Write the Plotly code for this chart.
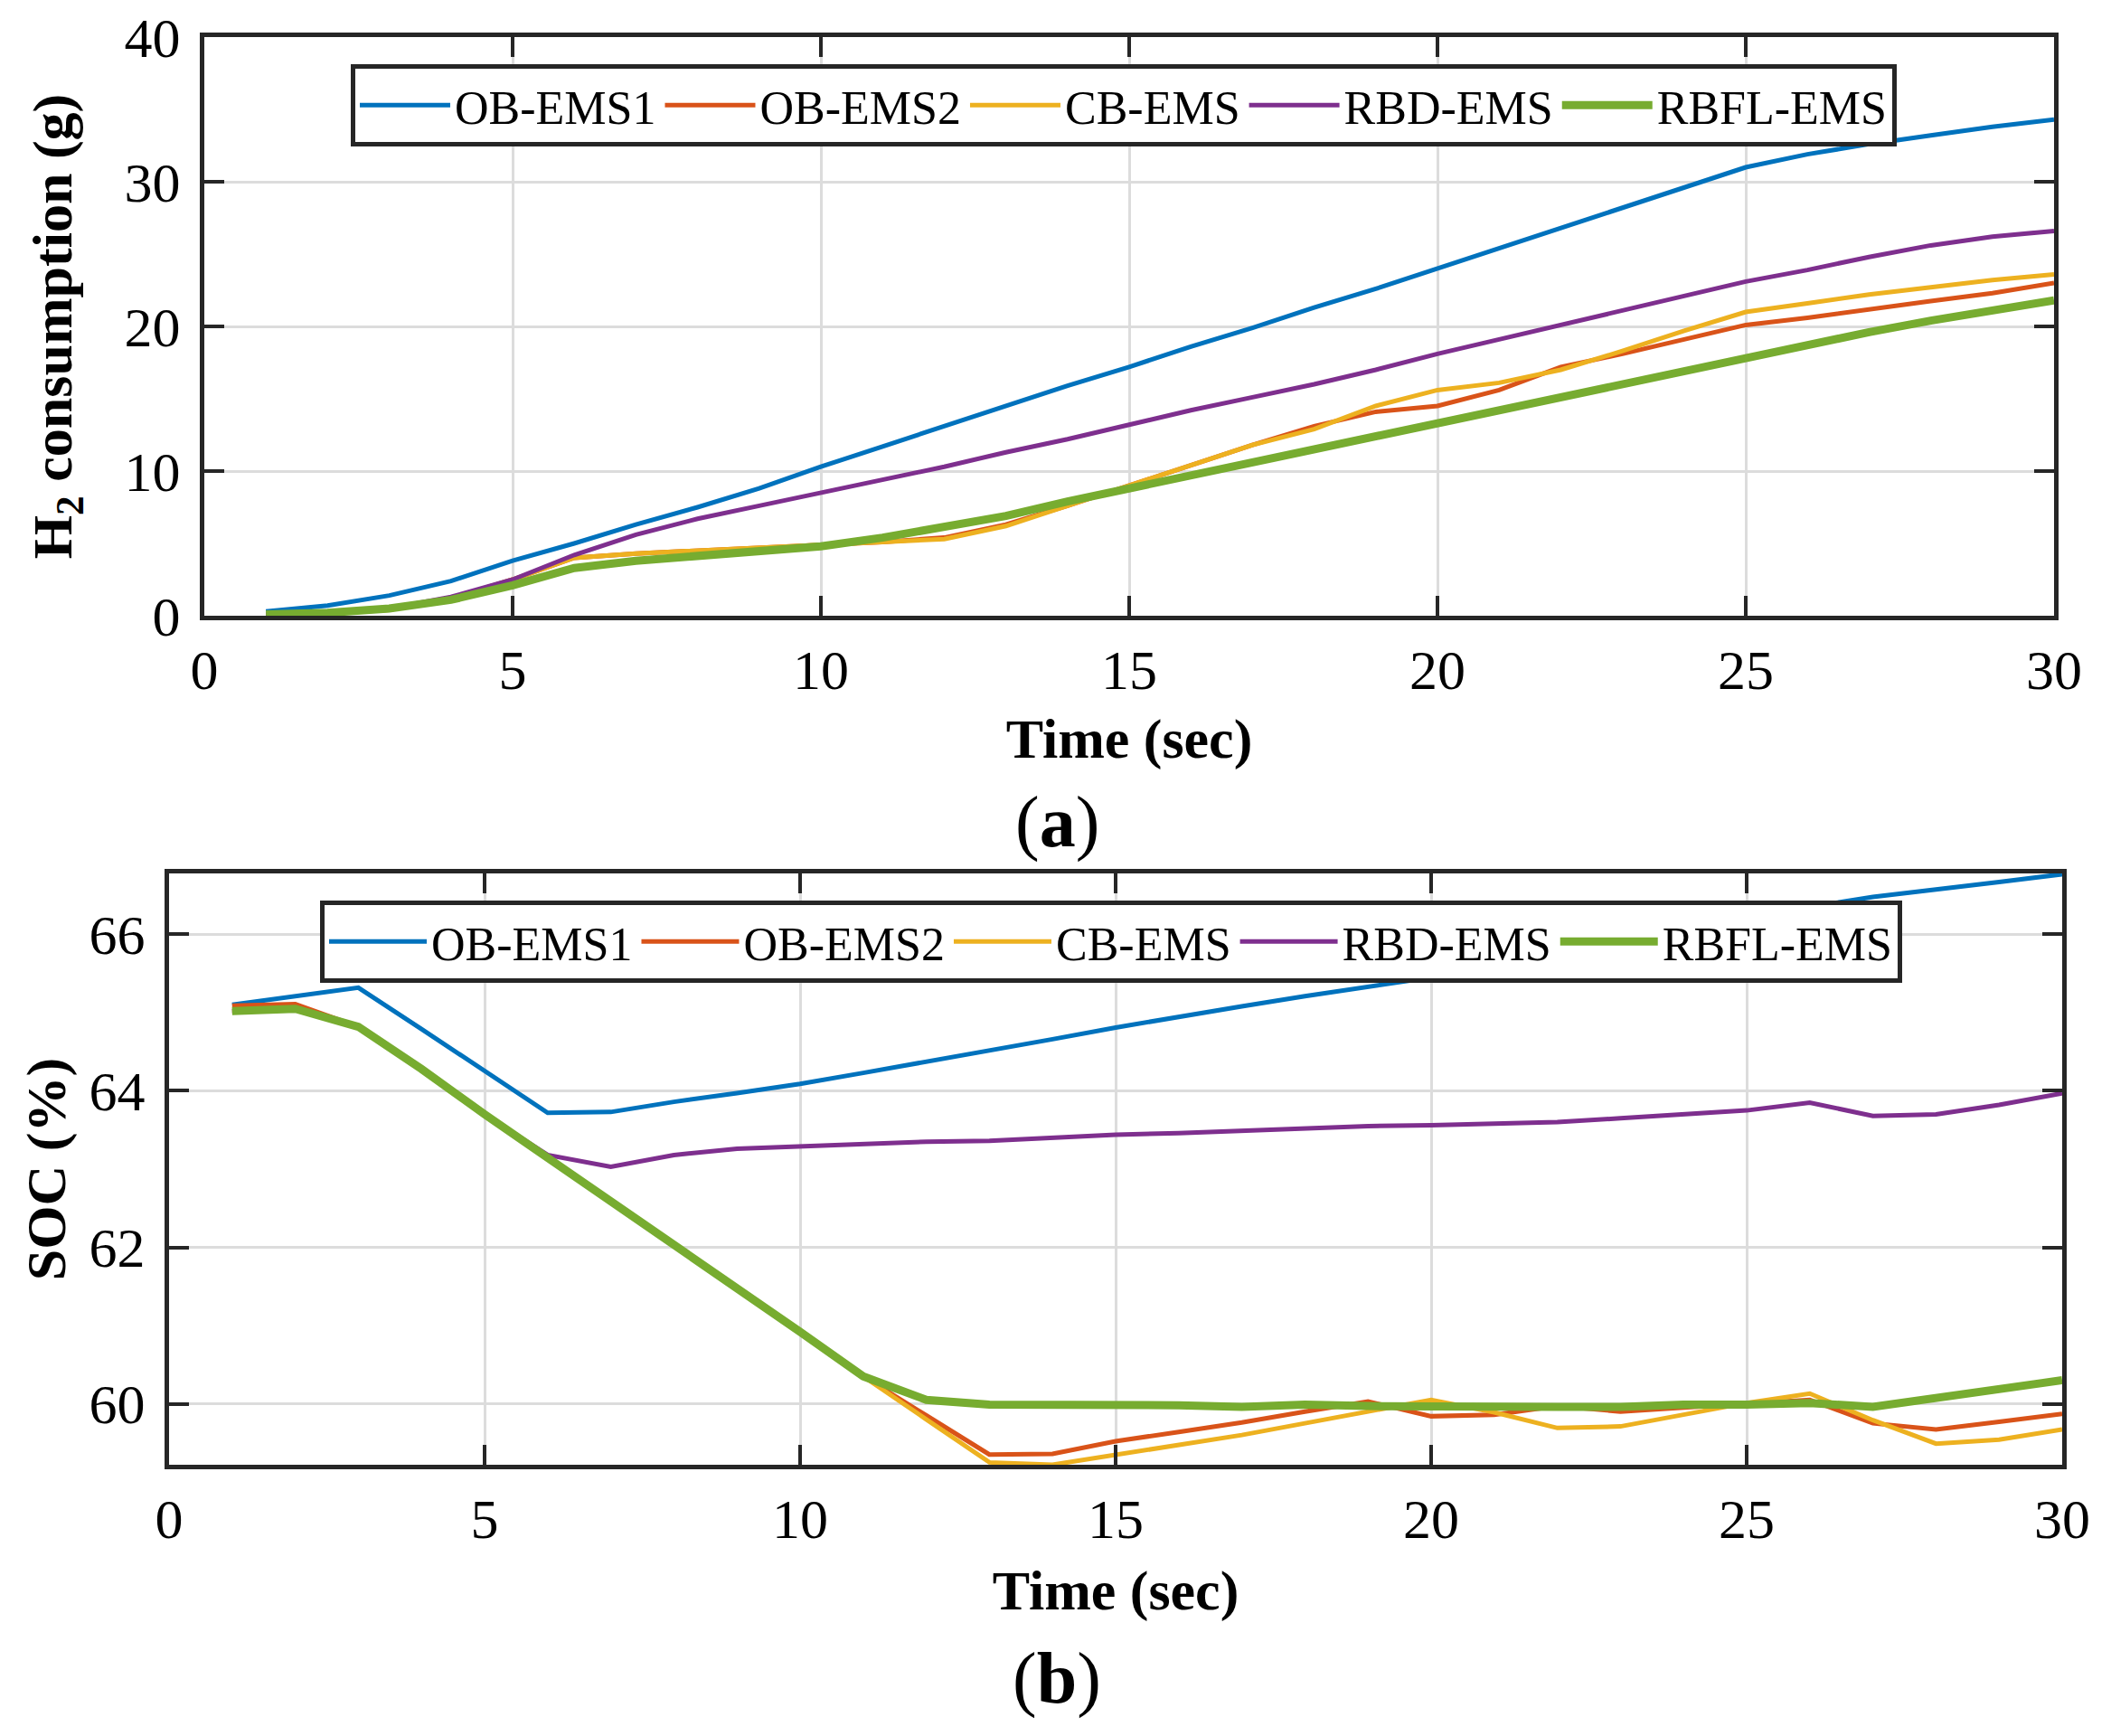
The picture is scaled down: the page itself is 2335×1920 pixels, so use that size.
import plotly.graph_objects as go

# ---------------- data ----------------
time_s = list(range(1, 31))

h2_ob_ems1 = [0.3, 0.7, 1.4, 2.4, 3.8, 5.0, 6.3, 7.5, 8.8, 10.3, 11.7, 13.1, 14.5, 15.9, 17.2,
              18.6, 19.9, 21.3, 22.6, 24.0, 25.4, 26.8, 28.2, 29.6, 31.0, 31.9, 32.6, 33.2, 33.8, 34.3]
h2_ob_ems2 = [0.1, 0.2, 0.4, 1.2, 2.5, 4.0, 4.3, 4.5, 4.7, 4.9, 5.1, 5.4, 6.3, 7.6, 9.0,
              10.4, 11.8, 13.1, 14.1, 14.5, 15.6, 17.2, 18.1, 19.1, 20.1, 20.6, 21.2, 21.75, 22.3, 23.0]
h2_cb_ems = [0.1, 0.2, 0.4, 1.2, 2.5, 4.0, 4.3, 4.5, 4.7, 4.9, 5.1, 5.3, 6.2, 7.6, 9.0,
             10.4, 11.8, 12.9, 14.5, 15.6, 16.1, 17.0, 18.3, 19.7, 21.0, 21.6, 22.2, 22.7, 23.2, 23.6]
h2_rbd_ems = [0.1, 0.2, 0.5, 1.3, 2.5, 4.2, 5.6, 6.7, 7.6, 8.5, 9.4, 10.3, 11.3, 12.2, 13.2,
              14.2, 15.1, 16.0, 17.0, 18.1, 19.1, 20.1, 21.1, 22.1, 23.1, 23.9, 24.8, 25.6, 26.2, 26.6]
h2_rbfl_ems = [0.1, 0.2, 0.5, 1.1, 2.1, 3.3, 3.8, 4.1, 4.4, 4.8, 5.4, 6.1, 6.9, 7.9, 8.8,
               9.7, 10.6, 11.5, 12.4, 13.3, 14.2, 15.1, 16.0, 16.9, 17.9, 18.8, 19.6, 20.4, 21.1, 21.8]

soc_ob_ems1 = [65.10, 65.21, 65.32, 64.79, 64.25, 63.72, 63.73, 63.86, 63.97, 64.09, 64.23, 64.37, 64.52, 64.66, 64.81,
               64.95, 65.08, 65.21, 65.33, 65.45, 65.60, 65.75, 65.90, 66.05, 66.20, 66.35, 66.48, 66.57, 66.67, 66.77]
soc_ob_ems2 = [65.09, 65.11, 64.82, 64.28, 63.70, 63.15, 62.60, 62.05, 61.49, 60.92, 60.35, 59.85, 59.35, 59.36, 59.52,
               59.64, 59.76, 59.90, 60.03, 59.84, 59.86, 59.97, 59.90, 59.95, 60.00, 60.05, 59.75, 59.67, 59.77, 59.87]
soc_cb_ems = [65.02, 65.05, 64.82, 64.28, 63.70, 63.15, 62.60, 62.05, 61.49, 60.92, 60.35, 59.80, 59.25, 59.22, 59.35,
              59.48, 59.60, 59.75, 59.90, 60.05, 59.89, 59.69, 59.71, 59.86, 60.01, 60.13, 59.79, 59.49, 59.54, 59.67]
soc_rbd_ems = [65.02, 65.05, 64.82, 64.28, 63.70, 63.18, 63.03, 63.18, 63.26, 63.29, 63.32, 63.35, 63.36, 63.40, 63.44,
               63.46, 63.49, 63.52, 63.55, 63.56, 63.58, 63.60, 63.65, 63.70, 63.75, 63.85, 63.68, 63.70, 63.82, 63.97]
soc_rbfl_ems = [65.02, 65.05, 64.82, 64.28, 63.70, 63.15, 62.60, 62.05, 61.49, 60.92, 60.35, 60.05, 59.99, 59.99, 59.99,
                59.98, 59.96, 59.99, 59.97, 59.96, 59.96, 59.96, 59.96, 59.99, 59.99, 60.01, 59.96, 60.08, 60.18, 60.30]

names = ["OB-EMS1", "OB-EMS2", "CB-EMS", "RBD-EMS", "RBFL-EMS"]
colors = ["#0072BD", "#D95319", "#EDB120", "#7E2F8E", "#77AC30"]
widths = [5, 5, 5, 5, 9]

x_ticks = [0, 5, 10, 15, 20, 25, 30]
h2_ticks = [0, 10, 20, 30, 40]
soc_ticks = [60, 62, 64, 66]

W, H = 2335, 1920
FONT = "Liberation Serif, Times New Roman, serif"
AX = "#262626"

fig = go.Figure()

top_series = [h2_ob_ems1, h2_ob_ems2, h2_cb_ems, h2_rbd_ems, h2_rbfl_ems]
bot_series = [soc_ob_ems1, soc_ob_ems2, soc_cb_ems, soc_rbd_ems, soc_rbfl_ems]

for n, c, w, ys in zip(names, colors, widths, top_series):
    fig.add_trace(go.Scatter(x=time_s, y=ys, mode="lines", name=n,
                             line=dict(color=c, width=w),
                             xaxis="x", yaxis="y", legend="legend"))
for n, c, w, ys in zip(names, colors, widths, bot_series):
    fig.add_trace(go.Scatter(x=time_s, y=ys, mode="lines", name=n,
                             line=dict(color=c, width=w),
                             xaxis="x2", yaxis="y2", legend="legend2"))


def px_x(p):
    return p / W


def px_y(p):
    return 1 - p / H


axis_common = dict(
    showline=True, linewidth=5, linecolor=AX, mirror="ticks",
    ticks="inside", ticklen=22, tickwidth=4, tickcolor=AX,
    showgrid=True, gridcolor="#dcdcdc", gridwidth=3,
    zeroline=False, automargin=False,
    tickfont=dict(family=FONT, size=62, color="#000000"),
)
title_font = dict(family=FONT, size=62, color="#000000")
legend_font = dict(family=FONT, size=52, color="#000000")

fig.update_layout(
    width=W, height=H,
    margin=dict(l=0, r=0, t=0, b=0),
    paper_bgcolor="white", plot_bgcolor="white",
    showlegend=True,
    xaxis=dict(axis_common, domain=[px_x(226), px_x(2272)], range=[0, 30],
               tickvals=x_ticks, anchor="y", ticklabelstandoff=2,
               title=dict(text="<b>Time (sec)</b>", font=title_font, standoff=22)),
    yaxis=dict(axis_common, domain=[px_y(681), px_y(41)], range=[0, 40],
               tickvals=h2_ticks, anchor="x", ticklabelstandoff=9,
               title=dict(text="<b>H<sub>2</sub> consumption (g)</b>", font=title_font, standoff=39)),
    xaxis2=dict(axis_common, domain=[px_x(187), px_x(2281)], range=[0, 30],
                tickvals=x_ticks, anchor="y2", ticklabelstandoff=2,
                title=dict(text="<b>Time (sec)</b>", font=title_font, standoff=25)),
    yaxis2=dict(axis_common, domain=[px_y(1620), px_y(966)], range=[59.22, 66.78],
                tickvals=soc_ticks, anchor="x2", ticklabelstandoff=9,
                title=dict(text="<b>SOC (%)</b>", font=title_font, standoff=7)),
    legend=dict(orientation="h", x=px_x(388), y=px_y(71), xanchor="left", yanchor="top",
                bgcolor="white", bordercolor=AX, borderwidth=5,
                font=legend_font, itemwidth=100, tracegroupgap=0),
    legend2=dict(orientation="h", x=px_x(354), y=px_y(996), xanchor="left", yanchor="top",
                 bgcolor="white", bordercolor=AX, borderwidth=5,
                 font=legend_font, itemwidth=108, tracegroupgap=0),
    annotations=[
        dict(text="(<b>a</b>)", x=px_x(1169), y=px_y(910), xref="paper", yref="paper",
             showarrow=False, xanchor="center", yanchor="middle",
             font=dict(family=FONT, size=80, color="#000000")),
        dict(text="(<b>b</b>)", x=px_x(1169), y=px_y(1856), xref="paper", yref="paper",
             showarrow=False, xanchor="center", yanchor="middle",
             font=dict(family=FONT, size=80, color="#000000")),
    ],
)

fig.write_html("out.html",
               config={"displayModeBar": False},
               post_script="document.body.style.margin='0';document.body.style.overflow='hidden';")
